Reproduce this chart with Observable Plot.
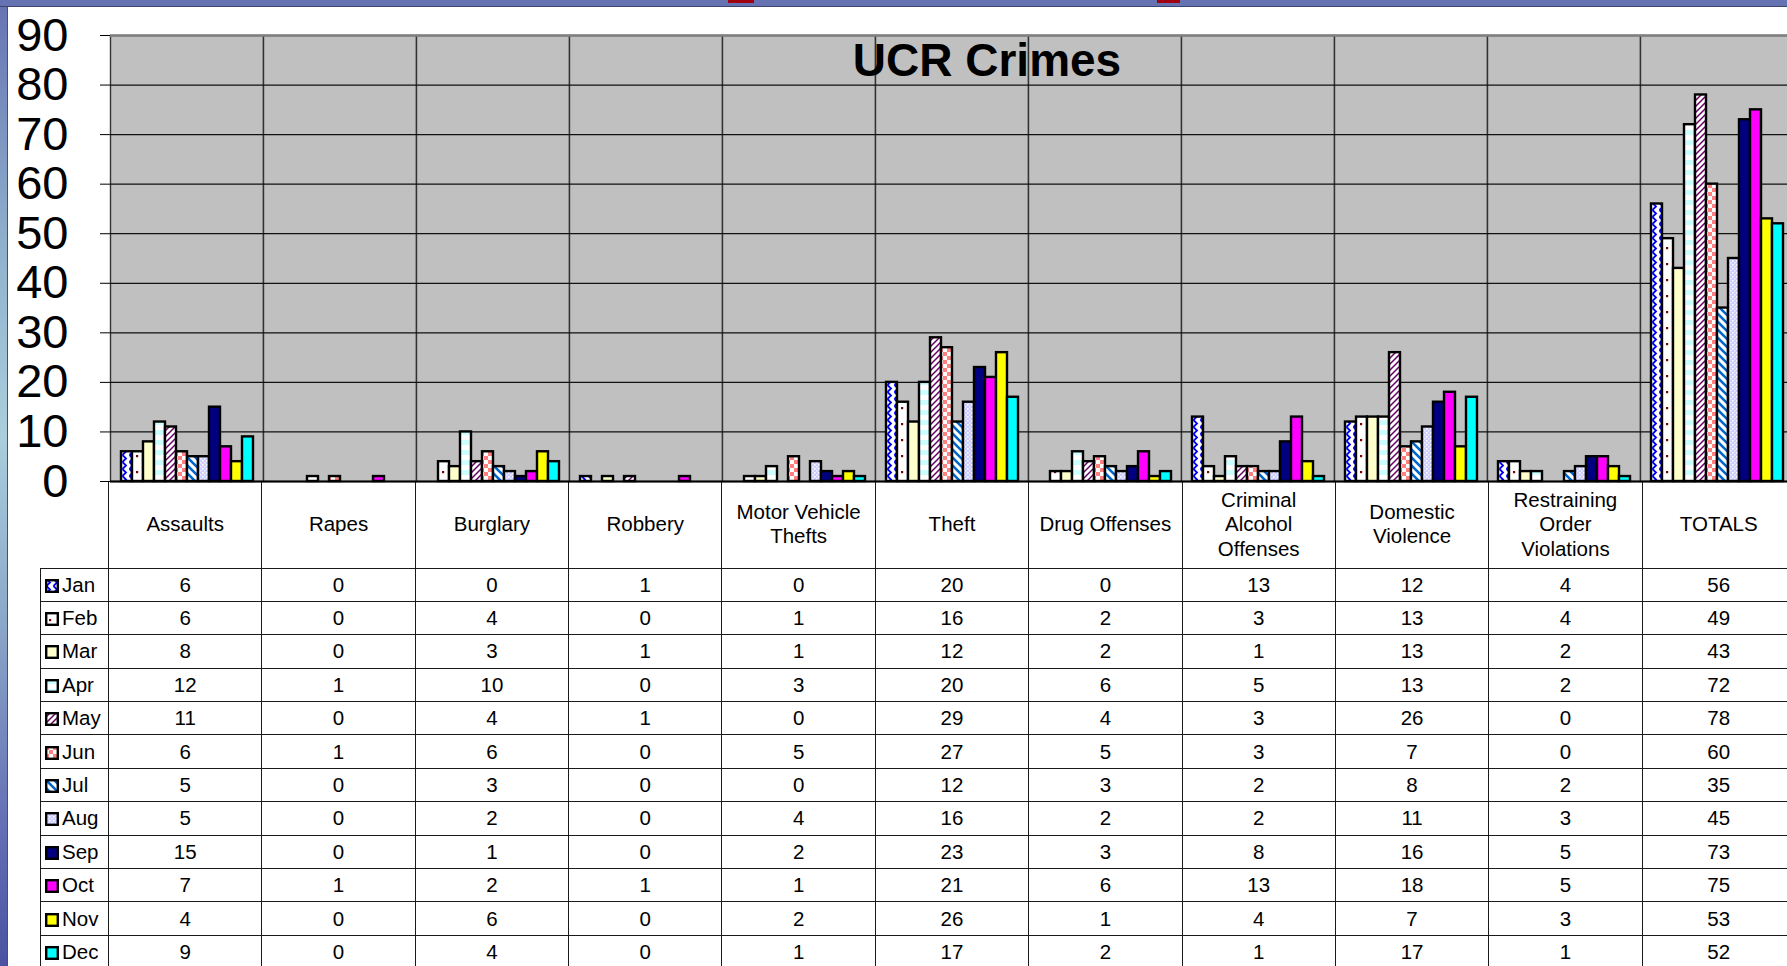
<!DOCTYPE html>
<html>
<head>
<meta charset="utf-8">
<script src="https://cdn.jsdelivr.net/npm/d3@7"></script>
<script src="https://cdn.jsdelivr.net/npm/@observablehq/plot@0.6"></script>
<style>
  html, body { margin: 0; padding: 0; }
  body { width: 1787px; height: 966px; overflow: hidden; background: #fff; position: relative;
         font-family: "Liberation Sans", Arial, sans-serif; }
  #topband { position: absolute; left: 0; top: 0; width: 1787px; height: 6px; background: #6673b3;
             border-bottom: 1.5px solid #3e4470; z-index: 5; }
  #leftstrip { position: absolute; left: 0; top: 0; width: 7px; height: 966px; z-index: 4;
               background: linear-gradient(to bottom, #6673b3 0%, #8fb0cc 25%, #a9cfdc 45%, #8aa6c8 65%, #6570b5 85%, #4b52a2 100%);
               border-right: 1.2px solid #4a4f70; }
  .red { position: absolute; top: 0; height: 3px; background: #a00010; z-index: 6; }
  #chart { position: absolute; left: 0; top: 0; z-index: 2; }
  #title { position: absolute; left: 987px; top: 37px; transform: translateX(-50%); z-index: 3;
           font: bold 46px/46px "Liberation Sans", Arial, sans-serif; color: #000; white-space: nowrap; }
  table { position: absolute; left: 40px; top: 481px; border-collapse: collapse; table-layout: fixed;
          font-family: "Liberation Sans", Arial, sans-serif; font-size: 20.5px; color: #000; z-index: 1; }
  td { border: 1.3px solid #1a1a1a; padding: 0; text-align: center; vertical-align: middle; overflow: hidden; white-space: nowrap; }
  tr.head td { height: 86.5px; line-height: 24.5px; border-top: none; }
  tr.head td.corner { border-left: none; border-top: none; }
  tr.row td { height: 32.4px; line-height: 32px; }
  td.leg { text-align: left; padding-left: 4px; }
  td.leg svg { vertical-align: -1px; margin-right: 3px; }
</style>
</head>
<body>
<div id="topband"></div>
<div class="red" style="left:728px;width:26px;"></div>
<div class="red" style="left:1157px;width:23px;"></div>
<div id="leftstrip"></div>
<div id="title">UCR Crimes</div>
<div id="chart"></div>
<script>
// ---------- data ----------
const categories = ["Assaults", "Rapes", "Burglary", "Robbery", "Motor Vehicle\nThefts", "Theft",
  "Drug Offenses", "Criminal\nAlcohol\nOffenses", "Domestic\nViolence", "Restraining\nOrder\nViolations", "TOTALS"];
const months = ["Jan", "Feb", "Mar", "Apr", "May", "Jun", "Jul", "Aug", "Sep", "Oct", "Nov", "Dec"];
const jan = [6, 0, 0, 1, 0, 20, 0, 13, 12, 4, 56];
const feb = [6, 0, 4, 0, 1, 16, 2, 3, 13, 4, 49];
const mar = [8, 0, 3, 1, 1, 12, 2, 1, 13, 2, 43];
const apr = [12, 1, 10, 0, 3, 20, 6, 5, 13, 2, 72];
const may = [11, 0, 4, 1, 0, 29, 4, 3, 26, 0, 78];
const jun = [6, 1, 6, 0, 5, 27, 5, 3, 7, 0, 60];
const jul = [5, 0, 3, 0, 0, 12, 3, 2, 8, 2, 35];
const aug = [5, 0, 2, 0, 4, 16, 2, 2, 11, 3, 45];
const sep = [15, 0, 1, 0, 2, 23, 3, 8, 16, 5, 73];
const oct = [7, 1, 2, 1, 1, 21, 6, 13, 18, 5, 75];
const nov = [4, 0, 6, 0, 2, 26, 1, 4, 7, 3, 53];
const dec = [9, 0, 4, 0, 1, 17, 2, 1, 17, 1, 52];
const yTicks = [0, 10, 20, 30, 40, 50, 60, 70, 80, 90];
const monthFills = ["url(#pJan)", "url(#pFeb)", "#ffffcc", "url(#pApr)", "url(#pMay)", "url(#pJun)",
  "url(#pJul)", "url(#pAug)", "#000080", "#ff00ff", "#ffff00", "#00ffff"];

const series = [jan, feb, mar, apr, may, jun, jul, aug, sep, oct, nov, dec];
const rows = [];
months.forEach((m, i) => categories.forEach((c, j) => rows.push({month: m, category: c, value: series[i][j], fill: monthFills[i]})));

// ---------- chart ----------
const W = 1795, zeroY = 481, H = 505;
const chart = Plot.plot({
  width: W, height: H,
  marginLeft: 108, marginRight: 0, marginTop: 35, marginBottom: H - zeroY,
  style: {background: "transparent", fontFamily: "'Liberation Sans', Arial, sans-serif", fontSize: "47px", color: "#000", maxWidth: "none", overflow: "visible"},
  facet: {data: rows, x: "category"},
  fx: {domain: categories, padding: 0, axis: null, label: null},
  x: {domain: months, paddingInner: 0, paddingOuter: 0.75, axis: null},
  y: {domain: [0, 90], ticks: yTicks, tickSize: 10, tickPadding: 32, label: null, tickFormat: d => String(d)},
  color: {type: "identity"},
  marks: [
    Plot.frame({fill: "#c0c0c0", stroke: "#333", strokeWidth: 1.4}),
    Plot.ruleY(yTicks.filter(t => t > 0 && t < 90), {stroke: "#111", strokeWidth: 1.3}),
    Plot.ruleY([90], {stroke: "#808080", strokeWidth: 2.6}),
    Plot.barY(rows, {x: "month", y: "value", fill: "fill", stroke: "#000", strokeWidth: 2.4, filter: d => d.value > 0}),
    Plot.ruleY([0], {stroke: "#000", strokeWidth: 1.8})
  ]
});

d3.select(chart).insert("defs", ":first-child").html(`
  <pattern id="pJan" patternUnits="userSpaceOnUse" width="7" height="7">
    <rect width="7" height="7" fill="#fff"/>
    <path d="M1.5,0 L5,3.5 L1.5,7" fill="none" stroke="#0000ff" stroke-width="1.8"/>
  </pattern>
  <pattern id="pFeb" patternUnits="userSpaceOnUse" width="10" height="16">
    <rect width="10" height="16" fill="#fff"/>
    <rect x="4" y="7" width="2.2" height="2.2" fill="#800000"/>
  </pattern>
  <pattern id="pApr" patternUnits="userSpaceOnUse" width="8" height="10">
    <rect width="8" height="10" fill="#fff"/>
    <rect width="8" height="5" fill="#ccffff"/>
  </pattern>
  <pattern id="pMay" patternUnits="userSpaceOnUse" width="6" height="6">
    <rect width="6" height="6" fill="#fff"/>
    <path d="M-1,1 L1,-1 M0,6 L6,0 M5,7 L7,5" stroke="#660066" stroke-width="1.5"/>
  </pattern>
  <pattern id="pJun" patternUnits="userSpaceOnUse" width="8" height="8">
    <rect width="8" height="8" fill="#fff"/>
    <rect width="4" height="4" fill="#ff8080"/>
    <rect x="4" y="4" width="4" height="4" fill="#ff8080"/>
  </pattern>
  <pattern id="pJul" patternUnits="userSpaceOnUse" width="8" height="8">
    <rect width="8" height="8" fill="#fff"/>
    <path d="M0,0 L8,8 M-2,6 L2,10 M6,-2 L10,2" stroke="#0066cc" stroke-width="2.6"/>
  </pattern>
  <pattern id="pAug" patternUnits="userSpaceOnUse" width="4" height="4">
    <rect width="4" height="4" fill="#ccccff"/>
    <rect width="1.6" height="1.6" fill="#fff"/>
    <rect x="2" y="2" width="1.6" height="1.6" fill="#eeeeff"/>
  </pattern>
`);
document.getElementById("chart").appendChild(chart);

// ---------- data table ----------
const table = document.createElement("table");
const colW = (W - 108) / categories.length;
let html = `<colgroup><col style="width:68px">${categories.map(() => `<col style="width:${colW}px">`).join("")}</colgroup>`;
html += `<tr class="head"><td class="corner"></td>${categories.map(c => `<td>${c.split("\n").join("<br>")}</td>`).join("")}</tr>`;
months.forEach((m, i) => {
  const sw = `<svg width="14" height="14"><rect x="1.2" y="1.2" width="11.6" height="11.6" fill="${monthFills[i]}" stroke="#000" stroke-width="2.4"/></svg>`;
  html += `<tr class="row"><td class="leg">${sw}${m}</td>${series[i].map(v => `<td>${v}</td>`).join("")}</tr>`;
});
table.innerHTML = html;
table.style.width = (68 + colW * categories.length) + "px";
document.body.appendChild(table);
</script>
</body>
</html>
